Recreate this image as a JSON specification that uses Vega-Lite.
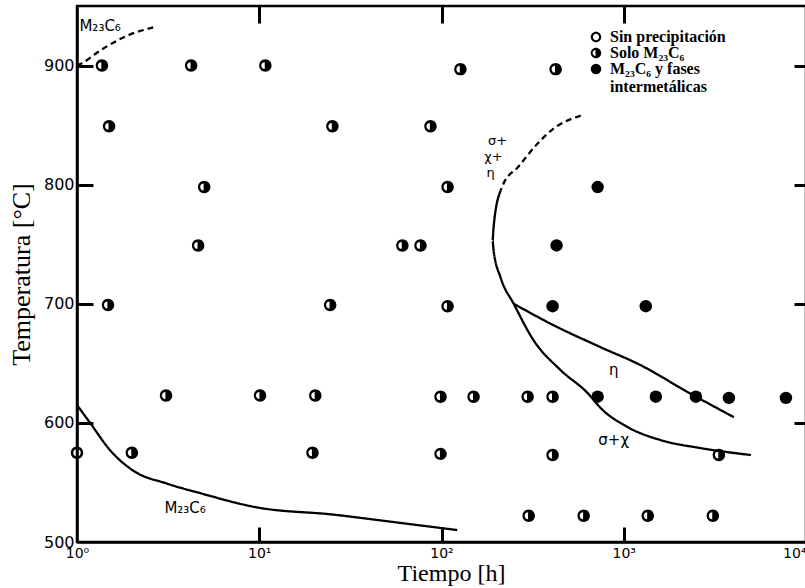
{
  "$schema": "https://vega.github.io/schema/vega-lite/v6.json",
  "width": 729,
  "height": 536,
  "autosize": {"type": "none"},
  "padding": {"left": 77, "top": 6, "right": 0, "bottom": 46},
  "background": "white",
  "config": {
    "view": {"stroke": "black", "strokeWidth": 2.5},
    "axis": {"grid": false, "domainColor": "black", "tickColor": "black", "labelColor": "black", "titleColor": "black"}
  },
  "datasets": {
    "curves": [
      {"curve": "m_inf", "estilo": "solido", "o": 1, "t": 1, "T": 615},
      {"curve": "m_inf", "estilo": "solido", "o": 2, "t": 1.18, "T": 600},
      {"curve": "m_inf", "estilo": "solido", "o": 3, "t": 1.52, "T": 577},
      {"curve": "m_inf", "estilo": "solido", "o": 4, "t": 2.03, "T": 560},
      {"curve": "m_inf", "estilo": "solido", "o": 5, "t": 3.12, "T": 549},
      {"curve": "m_inf", "estilo": "solido", "o": 6, "t": 4.74, "T": 541},
      {"curve": "m_inf", "estilo": "solido", "o": 7, "t": 9.75, "T": 529},
      {"curve": "m_inf", "estilo": "solido", "o": 8, "t": 25.5, "T": 523},
      {"curve": "m_inf", "estilo": "solido", "o": 9, "t": 59.5, "T": 516},
      {"curve": "m_inf", "estilo": "solido", "o": 10, "t": 122, "T": 510},
      {"curve": "m_sup", "estilo": "discontinuo", "o": 1, "t": 1, "T": 900},
      {"curve": "m_sup", "estilo": "discontinuo", "o": 2, "t": 1.065, "T": 902},
      {"curve": "m_sup", "estilo": "discontinuo", "o": 3, "t": 1.34, "T": 912.6},
      {"curve": "m_sup", "estilo": "discontinuo", "o": 4, "t": 1.88, "T": 925},
      {"curve": "m_sup", "estilo": "discontinuo", "o": 5, "t": 2.62, "T": 932},
      {"curve": "n_dash", "estilo": "discontinuo", "o": 1, "t": 580.6, "T": 858},
      {"curve": "n_dash", "estilo": "discontinuo", "o": 2, "t": 412, "T": 847},
      {"curve": "n_dash", "estilo": "discontinuo", "o": 3, "t": 337, "T": 834.6},
      {"curve": "n_dash", "estilo": "discontinuo", "o": 4, "t": 262, "T": 814.5},
      {"curve": "n_dash", "estilo": "discontinuo", "o": 5, "t": 219, "T": 801},
      {"curve": "n_dash", "estilo": "discontinuo", "o": 6, "t": 211, "T": 795},
      {"curve": "sx", "estilo": "solido", "o": 1, "t": 211, "T": 795},
      {"curve": "sx", "estilo": "solido", "o": 2, "t": 193, "T": 764},
      {"curve": "sx", "estilo": "solido", "o": 3, "t": 190.6, "T": 753},
      {"curve": "sx", "estilo": "solido", "o": 4, "t": 193, "T": 745},
      {"curve": "sx", "estilo": "solido", "o": 5, "t": 211, "T": 722},
      {"curve": "sx", "estilo": "solido", "o": 6, "t": 249, "T": 700},
      {"curve": "sx", "estilo": "solido", "o": 7, "t": 320, "T": 669.4},
      {"curve": "sx", "estilo": "solido", "o": 8, "t": 451, "T": 644.2},
      {"curve": "sx", "estilo": "solido", "o": 9, "t": 634, "T": 625},
      {"curve": "sx", "estilo": "solido", "o": 10, "t": 748, "T": 612.4},
      {"curve": "sx", "estilo": "solido", "o": 11, "t": 1052, "T": 596.4},
      {"curve": "sx", "estilo": "solido", "o": 12, "t": 1597, "T": 585.5},
      {"curve": "sx", "estilo": "solido", "o": 13, "t": 2649, "T": 578.8},
      {"curve": "sx", "estilo": "solido", "o": 14, "t": 4985, "T": 573},
      {"curve": "eta", "estilo": "solido", "o": 1, "t": 249, "T": 700},
      {"curve": "eta", "estilo": "solido", "o": 2, "t": 412, "T": 682},
      {"curve": "eta", "estilo": "solido", "o": 3, "t": 748, "T": 663.5},
      {"curve": "eta", "estilo": "solido", "o": 4, "t": 1240, "T": 648.4},
      {"curve": "eta", "estilo": "solido", "o": 5, "t": 2247, "T": 625.8},
      {"curve": "eta", "estilo": "solido", "o": 6, "t": 4020, "T": 604.8}
    ],
    "points": [
      {"t": 1.37, "T": 900, "tipo": "Solo M₂₃C₆"},
      {"t": 4.23, "T": 900, "tipo": "Solo M₂₃C₆"},
      {"t": 10.8, "T": 900, "tipo": "Solo M₂₃C₆"},
      {"t": 127, "T": 897, "tipo": "Solo M₂₃C₆"},
      {"t": 423, "T": 897, "tipo": "Solo M₂₃C₆"},
      {"t": 1.5, "T": 849, "tipo": "Solo M₂₃C₆"},
      {"t": 25.2, "T": 849, "tipo": "Solo M₂₃C₆"},
      {"t": 87, "T": 849, "tipo": "Solo M₂₃C₆"},
      {"t": 4.99, "T": 798, "tipo": "Solo M₂₃C₆"},
      {"t": 108, "T": 798, "tipo": "Solo M₂₃C₆"},
      {"t": 719, "T": 798, "tipo": "M₂₃C₆ y fases intermetálicas"},
      {"t": 4.62, "T": 749, "tipo": "Solo M₂₃C₆"},
      {"t": 61, "T": 749, "tipo": "Solo M₂₃C₆"},
      {"t": 76.7, "T": 749, "tipo": "Solo M₂₃C₆"},
      {"t": 428, "T": 749, "tipo": "M₂₃C₆ y fases intermetálicas"},
      {"t": 1.48, "T": 699, "tipo": "Solo M₂₃C₆"},
      {"t": 24.5, "T": 699, "tipo": "Solo M₂₃C₆"},
      {"t": 108, "T": 698, "tipo": "Solo M₂₃C₆"},
      {"t": 407, "T": 698, "tipo": "M₂₃C₆ y fases intermetálicas"},
      {"t": 1321, "T": 698, "tipo": "M₂₃C₆ y fases intermetálicas"},
      {"t": 3.08, "T": 623, "tipo": "Solo M₂₃C₆"},
      {"t": 10.1, "T": 623, "tipo": "Solo M₂₃C₆"},
      {"t": 20.3, "T": 623, "tipo": "Solo M₂₃C₆"},
      {"t": 98.8, "T": 622, "tipo": "Solo M₂₃C₆"},
      {"t": 150, "T": 622, "tipo": "Solo M₂₃C₆"},
      {"t": 297, "T": 622, "tipo": "Solo M₂₃C₆"},
      {"t": 407, "T": 622, "tipo": "Solo M₂₃C₆"},
      {"t": 719, "T": 622, "tipo": "M₂₃C₆ y fases intermetálicas"},
      {"t": 1500, "T": 622, "tipo": "M₂₃C₆ y fases intermetálicas"},
      {"t": 2488, "T": 622, "tipo": "M₂₃C₆ y fases intermetálicas"},
      {"t": 3776, "T": 621, "tipo": "M₂₃C₆ y fases intermetálicas"},
      {"t": 7762, "T": 621, "tipo": "M₂₃C₆ y fases intermetálicas"},
      {"t": 1, "T": 575, "tipo": "Sin precipitación"},
      {"t": 2.0, "T": 575, "tipo": "Solo M₂₃C₆"},
      {"t": 19.6, "T": 575, "tipo": "Solo M₂₃C₆"},
      {"t": 98.8, "T": 574, "tipo": "Solo M₂₃C₆"},
      {"t": 407, "T": 573, "tipo": "Solo M₂₃C₆"},
      {"t": 3327, "T": 573, "tipo": "Solo M₂₃C₆"},
      {"t": 301, "T": 522, "tipo": "Solo M₂₃C₆"},
      {"t": 603, "T": 522, "tipo": "Solo M₂₃C₆"},
      {"t": 1355, "T": 522, "tipo": "Solo M₂₃C₆"},
      {"t": 3083, "T": 522, "tipo": "Solo M₂₃C₆"}
    ],
    "labels": [
      {"t": 3.92, "T": 528.5, "texto": "M₂₃C₆"},
      {"t": 1.34, "T": 933.5, "texto": "M₂₃C₆"},
      {"t": 881, "T": 644, "texto": "η"},
      {"t": 881, "T": 585.5, "texto": "σ+χ"}
    ],
    "labels_small": [
      {"t": 203, "T": 837, "texto": "σ+"},
      {"t": 193, "T": 823, "texto": "χ+"},
      {"t": 186, "T": 809.5, "texto": "η"}
    ]
  },
  "layer": [
    {
      "data": {"name": "curves"},
      "mark": {"type": "line", "color": "black", "strokeWidth": 2.3, "interpolate": "monotone"},
      "encoding": {
        "x": {"field": "t", "type": "quantitative", "scale": {"type": "log", "domain": [1, 10000]},
          "axis": {"orient": "bottom", "values": [1, 10, 100, 1000, 10000], "labelExpr": "datum.value == 1 ? '10⁰' : datum.value == 10 ? '10¹' : datum.value == 100 ? '10²' : datum.value == 1000 ? '10³' : '10⁴'",
            "labelAlign": {"condition": {"test": "datum.value == 10000", "value": "right"}, "value": "center"},
            "domainWidth": 2.5, "ticks": false, "labelPadding": 4, "labelFont": "DejaVu Sans", "labelFontSize": 14,
            "title": "Tiempo [h]", "titleFont": "Liberation Serif", "titleFontSize": 24, "titleFontWeight": "normal", "titlePadding": 1, "titleX": 374, "labelFlush": false, "labelOverlap": false}},
        "y": {"field": "T", "type": "quantitative", "scale": {"domain": [500, 950], "nice": false, "zero": false},
          "axis": {"orient": "left", "values": [500, 600, 700, 800, 900], "domainWidth": 2.5, "ticks": false, "labelPadding": 3,
            "labelFont": "DejaVu Sans", "labelFontSize": 16, "title": "Temperatura [°C]", "titleFont": "Liberation Serif", "titleFontSize": 26, "titleFontWeight": "normal", "titlePadding": 9, "labelFlush": false, "labelOverlap": false}},
        "detail": {"field": "curve"},
        "order": {"field": "o", "type": "quantitative"},
        "strokeDash": {"field": "estilo", "type": "nominal", "scale": {"domain": ["solido", "discontinuo"], "range": [[1, 0], [6, 4]]}, "legend": null}
      }
    },
    {
      "data": {"name": "points"},
      "mark": {"type": "point", "filled": true, "color": "black", "size": 155, "opacity": 1, "strokeWidth": 0},
      "encoding": {
        "x": {"field": "t", "type": "quantitative", "axis": null},
        "y": {"field": "T", "type": "quantitative",
          "axis": {"orient": "left", "offset": -729, "values": [600, 700, 800, 900], "labels": false, "title": null, "domain": false, "tickSize": 12, "tickWidth": 3, "tickColor": "black"}},
        "shape": {"field": "tipo", "type": "nominal",
          "scale": {"domain": ["Sin precipitación", "Solo M₂₃C₆", "M₂₃C₆ y fases intermetálicas"],
            "range": ["M0,-1A1,1,0,1,1,0,1A1,1,0,1,1,0,-1ZM0,-0.6A0.6,0.6,0,1,0,0,0.6A0.6,0.6,0,1,0,0,-0.6Z",
                      "M0,-1A1,1,0,1,1,0,1A1,1,0,1,1,0,-1ZM-0.1,-0.55A0.55,0.55,0,0,0,-0.1,0.55Z",
                      "circle"]},
          "legend": {"orient": "none", "legendX": 511, "legendY": 23, "title": null, "labelFont": "Liberation Serif", "labelFontSize": 16, "labelFontWeight": "bold", "labelColor": "black",
            "symbolSize": 110, "symbolFillColor": "black", "symbolStrokeWidth": 0, "rowPadding": 0, "labelOffset": 6, "labelLimit": 300,
            "labelExpr": "datum.label == 'M₂₃C₆ y fases intermetálicas' ? ['M₂₃C₆ y fases', 'intermetálicas'] : datum.label"}}
      }
    },
    {
      "data": {"name": "labels"},
      "mark": {"type": "text", "font": "DejaVu Sans", "fontSize": 15, "color": "black"},
      "encoding": {
        "x": {"field": "t", "type": "quantitative",
          "axis": {"orient": "top", "offset": -536, "values": [10, 100, 1000], "labels": false, "title": null, "domain": false, "tickSize": 15, "tickWidth": 3, "tickColor": "black"}},
        "y": {"field": "T", "type": "quantitative",
          "axis": {"orient": "right", "offset": -729, "values": [600, 700, 800, 900], "labels": false, "title": null, "domain": false, "tickSize": 16, "tickWidth": 3, "tickColor": "black"}},
        "text": {"field": "texto"}
      }
    },
    {
      "data": {"name": "labels_small"},
      "mark": {"type": "text", "font": "DejaVu Sans", "fontSize": 13, "color": "black"},
      "encoding": {
        "x": {"field": "t", "type": "quantitative",
          "axis": {"orient": "bottom", "offset": -536, "values": [10, 100, 1000], "labels": false, "title": null, "domain": false, "tickSize": 17, "tickWidth": 3, "tickColor": "black"}},
        "y": {"field": "T", "type": "quantitative", "axis": null},
        "text": {"field": "texto"}
      }
    }
  ],
  "resolve": {"axis": {"x": "independent", "y": "independent"}}
}
